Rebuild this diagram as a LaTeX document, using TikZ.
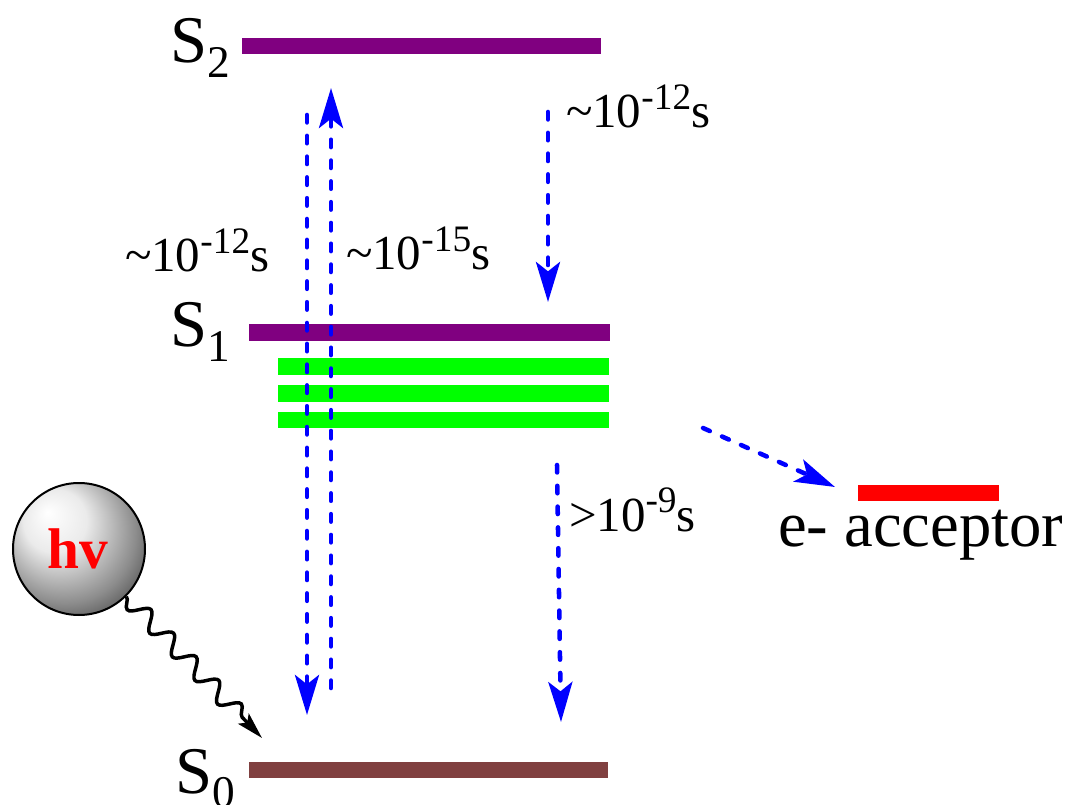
\documentclass[tikz,border=0pt]{standalone}
\usepackage{fontspec}
\setmainfont{Liberation Serif}
\usetikzlibrary{arrows.meta,decorations.pathmorphing}
\pgfdeclareradialshading{hvball}{\pgfpoint{-12bp}{14bp}}{%
 color(0bp)=(white); color(12bp)=(white!92!black); color(27bp)=(black!45); color(38bp)=(black!78); color(45bp)=(black); color(50bp)=(black)}
\newcommand{\lab}[2]{{\fontsize{36.7}{37}\selectfont #1\raisebox{14pt}{\fontsize{28}{28}\selectfont -#2}s}}
\newcommand{\lev}[1]{{\fontsize{50}{50}\selectfont S\raisebox{-11pt}{\fontsize{34}{34}\selectfont #1}}}
\definecolor{lvl}{RGB}{128,0,128}
\definecolor{grn}{RGB}{0,255,0}
\definecolor{brn}{RGB}{128,64,64}
\tikzset{
 x=0.75pt,y=-0.75pt,
 dasharrow/.style={draw=blue,line width=3.4pt,dash pattern=on 5.6pt off 10pt,line cap=round,
   -{Stealth[length=30pt,width=18pt,inset=7pt,sep=0pt]}},
 txt/.style={anchor=base west,inner sep=0pt,outer sep=0pt}
}
\begin{document}
\begin{tikzpicture}
\useasboundingbox (0,0) rectangle (1067,805);
\fill[white] (0,0) rectangle (1067,805);
\fill[lvl] (242,38) rectangle (601,54);
\fill[lvl] (249,324) rectangle (610,341);
\fill[grn] (278,358) rectangle (609,375);
\fill[grn] (278,385) rectangle (609,402);
\fill[grn] (278,412) rectangle (609,428);
\fill[brn] (249,762) rectangle (608,778);
\fill[red] (858,485) rectangle (999,501);
\node[txt] (s2) at (170,63) {\lev{2}};
\node[txt] (s1) at (170,347) {\lev{1}};
\node[txt] (s0) at (175,793) {\lev{0}};
\node[txt] (t1) at (125,272) {\lab{\textasciitilde10}{12}};
\node[txt] (t2) at (346,270) {\lab{\textasciitilde10}{15}};
\node[txt] (t3) at (566,128) {\lab{\textasciitilde10}{12}};
\node[txt] (t4) at (569,531) {\lab{\textgreater10}{9}};
\node[txt] (acc) at (778,546) {\fontsize{48.5}{49}\selectfont e- acceptor};
\coordinate (a1s) at (307,115); \coordinate (a1e) at (307,715);
\coordinate (a2s) at (331,688); \coordinate (a2e) at (331,88);
\coordinate (a3s) at (548,112); \coordinate (a3e) at (548,302);
\coordinate (a4s) at (557,465); \coordinate (a4e) at (561,722);
\coordinate (a5s) at (703,428); \coordinate (a5e) at (835,487);
\draw[dasharrow] (a1s) -- (a1e);
\draw[dasharrow] (a2s) -- (a2e);
\draw[dasharrow] (a3s) -- (a3e);
\draw[dasharrow] (a4s) -- (a4e);
\draw[dasharrow] (a5s) -- (a5e);
\node[circle,minimum size=99pt,inner sep=0pt,draw=black,line width=1.5pt,shading=hvball,
  text=red,font=\bfseries\fontsize{43}{43}\selectfont] (hv) at (79,549) {\kern-2pt hv};
\coordinate (pe) at (262,738);
\draw[black,line width=2.6pt,-{Stealth[length=20pt,width=11pt,inset=4pt]},
  decorate,decoration={snake,segment length=24.5pt,amplitude=-6.5pt,post length=20pt,pre length=0pt}]
  (hv.-45) -- (pe);
\end{tikzpicture}
\end{document}
